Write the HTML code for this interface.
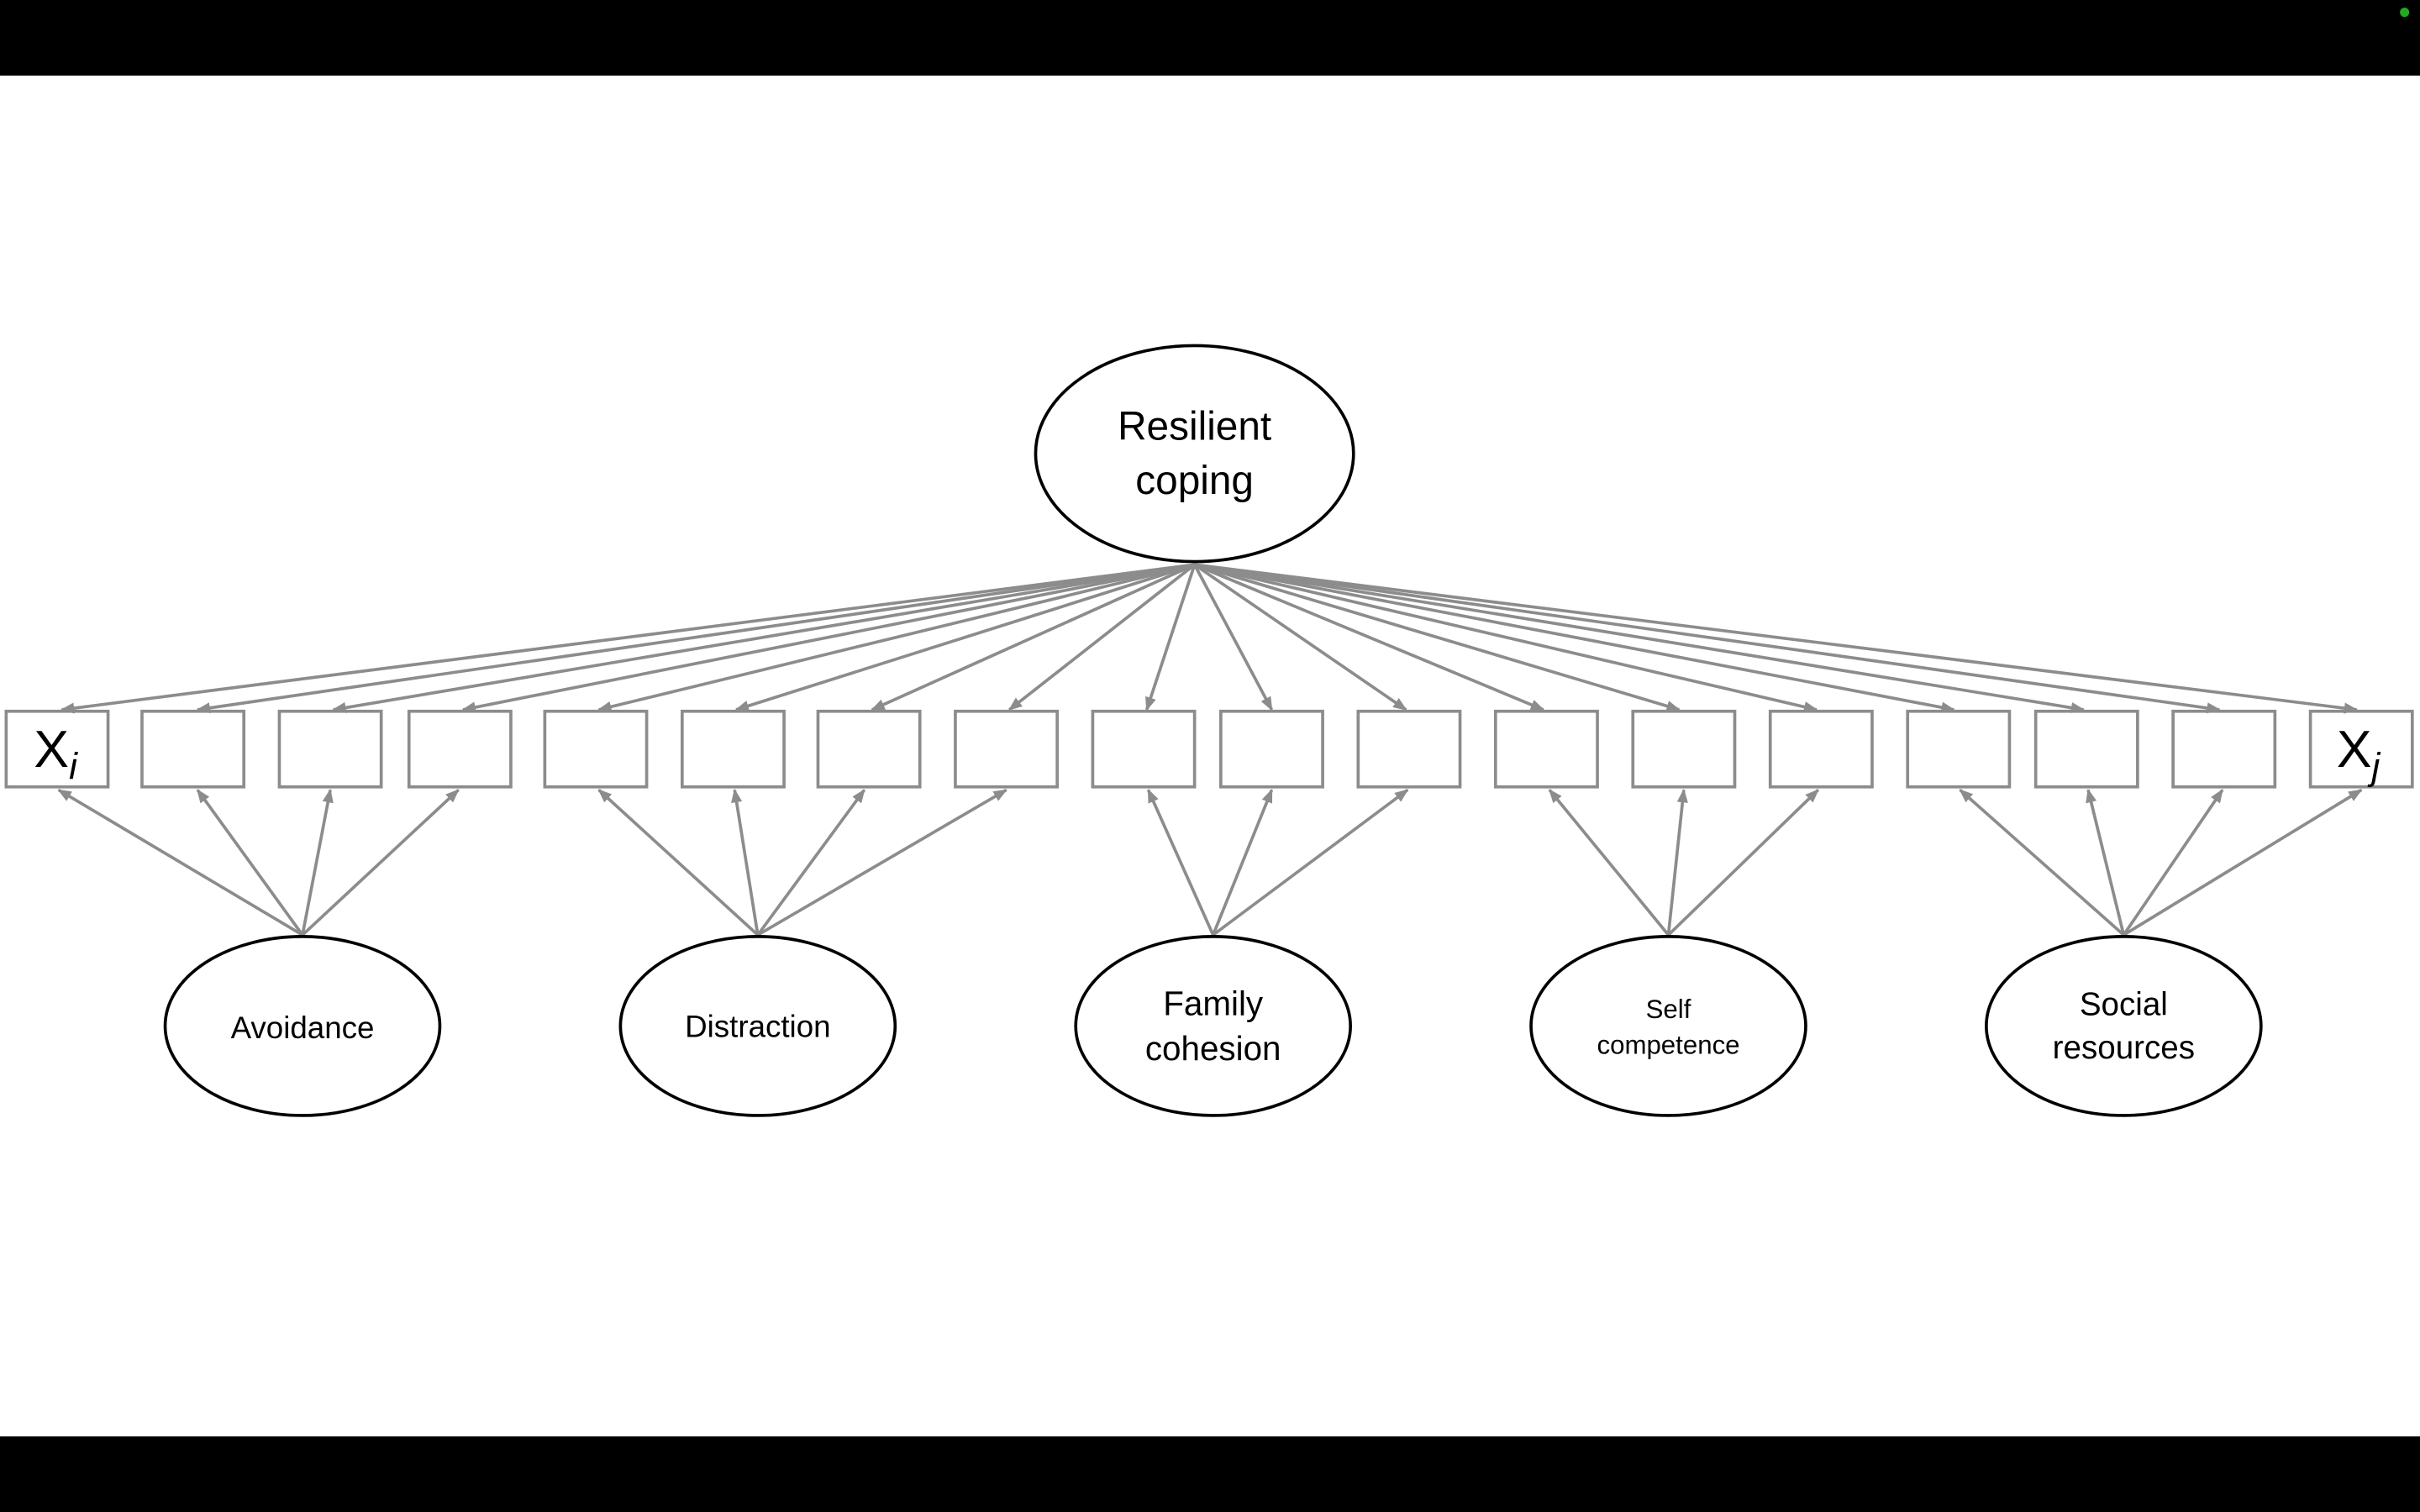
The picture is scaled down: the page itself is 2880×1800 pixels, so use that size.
<!DOCTYPE html>
<html><head><meta charset="utf-8"><style>
html,body{margin:0;padding:0;background:#fff;}
svg{display:block;}
text{font-family:"Liberation Sans",sans-serif;fill:#000;}
</style></head><body>
<svg width="2880" height="1800" viewBox="0 0 1568 980" xmlns="http://www.w3.org/2000/svg">
<defs>
<marker id="a" viewBox="0 0 10 10" refX="9" refY="5" markerWidth="4.5" markerHeight="4.5" orient="auto-start-reverse" markerUnits="strokeWidth">
<path d="M0,1 L10,5 L0,9 z" fill="#8c8c8c"/></marker>
</defs>
<rect x="0" y="0" width="1568" height="49" fill="#000"/>
<rect x="0" y="931" width="1568" height="49" fill="#000"/>
<circle cx="1558" cy="8" r="3" fill="#2a2"/>
<g stroke="#8c8c8c" stroke-width="2" fill="none">
<rect x="4" y="461" width="66" height="49"/>
<rect x="92" y="461" width="66" height="49"/>
<rect x="181" y="461" width="66" height="49"/>
<rect x="265" y="461" width="66" height="49"/>
<rect x="353" y="461" width="66" height="49"/>
<rect x="442" y="461" width="66" height="49"/>
<rect x="530" y="461" width="66" height="49"/>
<rect x="619" y="461" width="66" height="49"/>
<rect x="708" y="461" width="66" height="49"/>
<rect x="791" y="461" width="66" height="49"/>
<rect x="880" y="461" width="66" height="49"/>
<rect x="969" y="461" width="66" height="49"/>
<rect x="1058" y="461" width="66" height="49"/>
<rect x="1147" y="461" width="66" height="49"/>
<rect x="1236" y="461" width="66" height="49"/>
<rect x="1319" y="461" width="66" height="49"/>
<rect x="1408" y="461" width="66" height="49"/>
<rect x="1497" y="461" width="66" height="49"/>
</g>
<g stroke="#8c8c8c" stroke-width="2" marker-end="url(#a)">
<line x1="774" y1="366" x2="40" y2="460"/>
<line x1="774" y1="366" x2="128" y2="460"/>
<line x1="774" y1="366" x2="216" y2="460"/>
<line x1="774" y1="366" x2="300" y2="460"/>
<line x1="774" y1="366" x2="388" y2="460"/>
<line x1="774" y1="366" x2="477" y2="460"/>
<line x1="774" y1="366" x2="565" y2="460"/>
<line x1="774" y1="366" x2="654" y2="460"/>
<line x1="774" y1="366" x2="743" y2="460"/>
<line x1="774" y1="366" x2="824" y2="460"/>
<line x1="774" y1="366" x2="911" y2="460"/>
<line x1="774" y1="366" x2="1000" y2="460"/>
<line x1="774" y1="366" x2="1088" y2="460"/>
<line x1="774" y1="366" x2="1177" y2="460"/>
<line x1="774" y1="366" x2="1266" y2="460"/>
<line x1="774" y1="366" x2="1350" y2="460"/>
<line x1="774" y1="366" x2="1438" y2="460"/>
<line x1="774" y1="366" x2="1527" y2="460"/>

<line x1="196" y1="606" x2="38" y2="512"/>
<line x1="196" y1="606" x2="128" y2="512"/>
<line x1="196" y1="606" x2="214" y2="512"/>
<line x1="196" y1="606" x2="297" y2="512"/>
<line x1="491" y1="606" x2="388" y2="512"/>
<line x1="491" y1="606" x2="476" y2="512"/>
<line x1="491" y1="606" x2="560" y2="512"/>
<line x1="491" y1="606" x2="652" y2="512"/>
<line x1="786" y1="606" x2="744" y2="512"/>
<line x1="786" y1="606" x2="824" y2="512"/>
<line x1="786" y1="606" x2="912" y2="512"/>
<line x1="1081" y1="606" x2="1004" y2="512"/>
<line x1="1081" y1="606" x2="1091" y2="512"/>
<line x1="1081" y1="606" x2="1178" y2="512"/>
<line x1="1376" y1="606" x2="1270" y2="512"/>
<line x1="1376" y1="606" x2="1353" y2="512"/>
<line x1="1376" y1="606" x2="1440" y2="512"/>
<line x1="1376" y1="606" x2="1530" y2="512"/>
</g>
<g stroke="#000" stroke-width="2" fill="#fff">
<ellipse cx="774" cy="294" rx="103" ry="70"/>
<ellipse cx="196" cy="665" rx="89" ry="58"/>
<ellipse cx="491" cy="665" rx="89" ry="58"/>
<ellipse cx="786" cy="665" rx="89" ry="58"/>
<ellipse cx="1081" cy="665" rx="89" ry="58"/>
<ellipse cx="1376" cy="665" rx="89" ry="58"/>
</g>
<g text-anchor="middle">
<text x="774" y="285" font-size="26">Resilient</text>
<text x="774" y="320" font-size="26">coping</text>
<text x="196" y="673" font-size="20">Avoidance</text>
<text x="491" y="672" font-size="20">Distraction</text>
<text x="786" y="658" font-size="22">Family</text>
<text x="786" y="687" font-size="22">cohesion</text>
<text x="1081" y="660" font-size="17">Self</text>
<text x="1081" y="683" font-size="17">competence</text>
<text x="1376" y="658" font-size="21">Social</text>
<text x="1376" y="686" font-size="21">resources</text>
</g>
<text x="22" y="497" font-size="34">X<tspan font-size="24" font-style="italic" dy="8">i</tspan></text>
<text x="1514" y="497" font-size="34">X<tspan font-size="24" font-style="italic" dy="8">j</tspan></text>
</svg>
</body></html>
